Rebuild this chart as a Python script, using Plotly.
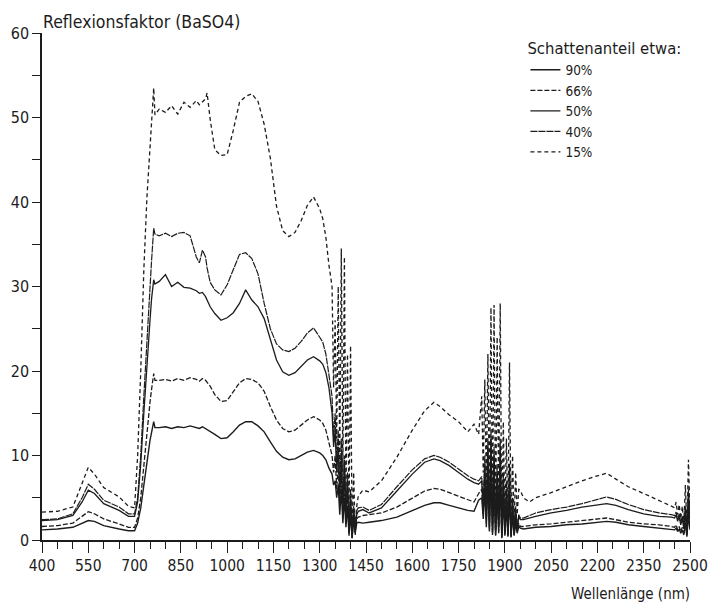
import plotly.graph_objects as go

# ---------------- data ----------------
wavelength = [
    # visible / NIR plateau
    400, 450, 500, 530, 550, 570, 600, 650, 680, 700,
    710, 720, 730, 740, 750, 755, 762, 766,
    780, 800, 820, 840, 860, 880, 900, 910, 920, 930,
    935, 945, 960, 980, 1000, 1020, 1040, 1060, 1080, 1100,
    1120, 1140, 1160, 1180, 1200, 1220, 1240, 1260, 1280, 1300,
    1310, 1320, 1330,
    # water band ~1400
    1340, 1345, 1350, 1355, 1360, 1365, 1370, 1375, 1380, 1385,
    1390, 1395, 1400, 1405, 1410, 1415, 1420, 1425,
    # SWIR 1
    1440, 1460, 1500, 1550, 1600, 1640, 1670, 1690, 1720, 1750,
    1780, 1800, 1815,
    # water band ~1900
    1825, 1830, 1835, 1840, 1845, 1850, 1855, 1860, 1865, 1870,
    1875, 1880, 1885, 1890, 1895, 1900, 1905, 1910, 1915, 1920,
    1925, 1930, 1935, 1940, 1945, 1950,
    # SWIR 2
    1960, 1980, 2000, 2050, 2100, 2150, 2200, 2230, 2260, 2300,
    2350, 2400, 2440,
    # end
    2450, 2455, 2460, 2465, 2470, 2475, 2480, 2485, 2490, 2495, 2500,
]

shadow_15 = [
    3.3, 3.4, 3.9, 6.8, 8.6, 7.8, 6.2, 5.1, 4.0, 3.8,
    10, 20, 32, 40.5, 46, 49, 53.5, 50.3,
    51.0, 50.6, 51.4, 50.4, 51.8, 51.2, 52.0, 51.5, 51.9, 52.2,
    52.9, 49.8, 46.2, 45.5, 45.6, 48.5, 51.8, 52.5, 52.8, 51.9,
    49.2, 45.2, 39.5, 36.6, 35.9, 36.4, 37.8, 39.6, 40.6, 39.2,
    38.0, 35.8, 32.5,
    30, 18, 26, 12, 30, 9, 34.5, 8, 33.5, 5, 22, 3, 23, 1, 8, 0.5, 4, 5.2,
    5.9, 5.7, 7.0, 9.8, 13.0, 15.3, 16.3, 15.8, 14.8, 14.0, 12.8, 13.7, 12.5,
    17, 8, 19, 6, 22, 4, 27.5, 3, 27.8, 2, 24, 5, 28, 1, 14, 3, 12, 2, 21, 1.5,
    10, 2, 8, 3, 6, 5.9,
    5.0, 4.5, 5.0, 5.6, 6.3, 7.0, 7.6, 7.9, 7.2, 6.3, 5.5, 4.7, 4.0,
    3.8, 4.5, 3.0, 4.2, 2.5, 4.0, 2.0, 6.5, 1.5, 9.5, 3.0,
]

shadow_40 = [
    2.4, 2.5, 3.1, 5.0, 6.6, 6.0, 4.7, 3.9, 3.1, 3.1,
    5.0, 10, 17, 24, 30, 33, 36.9, 36.2,
    36.0, 36.3, 35.9, 36.3, 36.4, 36.0, 33.5, 32.8, 34.3, 33.5,
    32.2, 30.5, 29.6, 29.0, 30.2, 32.0, 33.8, 34.0, 33.3, 31.5,
    28.0, 25.0, 23.2, 22.5, 22.3, 22.7, 23.5, 24.5, 25.1, 24.0,
    23.4, 22.0, 19.5,
    17, 12, 15, 9, 13, 6, 12, 4, 10, 3, 8, 1.5, 6, 0.5, 4, 1.5, 3.5, 3.8,
    3.9, 3.5, 4.2, 6.3, 8.3, 9.6, 10.0, 9.8, 9.2, 8.4, 7.6, 7.2, 7.0,
    7.5, 4, 10, 3, 12, 2, 13, 1.5, 11, 1, 9, 2, 12, 0.5, 8, 1, 7, 0.8, 9, 0.6,
    5, 1, 4, 1.5, 3, 2.6,
    2.6, 2.9, 3.2, 3.6, 3.9, 4.3, 4.8, 5.1, 4.8, 4.2, 3.6, 3.2, 3.0,
    2.9, 3.3, 2.4, 3.1, 2.0, 2.8, 1.5, 4.0, 1.0, 6.0, 2.5,
]

shadow_50 = [
    2.3, 2.4, 2.9, 4.5, 5.9, 5.5, 4.3, 3.5, 2.8, 2.8,
    4.5, 9, 15, 21, 26, 28.5, 30.8, 30.3,
    30.6, 31.4, 30.0, 30.5, 29.9, 29.8, 29.5, 29.2, 29.3, 28.8,
    28.4, 27.6, 26.8, 26.0, 26.3, 26.9, 28.0, 29.6, 28.4, 27.6,
    26.2, 23.6, 21.3, 19.9, 19.5, 19.8, 20.6, 21.3, 21.7, 21.2,
    20.8, 19.8, 18.0,
    15, 11, 13, 8, 11, 5, 10, 3.5, 9, 2.5, 7, 1, 5, 0.3, 3.5, 1.2, 3, 3.4,
    3.6, 3.2, 3.8, 5.8, 7.8, 9.2, 9.6, 9.4, 8.8, 8.0, 7.2, 6.8, 6.6,
    7, 3.5, 9, 2.5, 11, 1.5, 12, 1, 10, 0.8, 8, 1.5, 11, 0.4, 7, 0.8, 6, 0.6, 8, 0.5,
    4.5, 0.8, 3.5, 1.3, 2.8, 2.4,
    2.4, 2.6, 2.8, 3.2, 3.5, 3.9, 4.2, 4.3, 4.1, 3.6, 3.1, 2.8, 2.7,
    2.6, 3.0, 2.2, 2.8, 1.8, 2.6, 1.3, 3.5, 0.8, 5.0, 2.2,
]

shadow_66 = [
    1.6, 1.7, 2.0, 2.8, 3.35, 3.1, 2.5, 1.9, 1.5, 1.5,
    2.6, 5, 9, 13, 16.3, 17.8, 19.7, 18.9,
    18.9, 19.0, 18.8, 19.1, 18.9, 19.2, 19.0, 18.8, 19.1, 18.9,
    18.7, 18.2, 17.2, 16.4, 16.5, 17.5, 18.6, 19.1, 19.0, 18.6,
    17.6, 15.8, 14.2, 13.2, 12.8, 13.0, 13.6, 14.2, 14.6, 14.2,
    13.8, 13.0, 11.5,
    10, 8, 10, 6, 9, 4, 8, 2.5, 7, 2, 5, 0.8, 4, 0.2, 3, 1, 2.5, 2.7,
    2.9, 3.0, 3.2, 3.9, 5.0, 5.8, 6.1, 6.0, 5.6, 5.2, 4.8, 4.5, 5.5,
    6, 3, 8, 2, 9, 1.2, 10, 0.8, 8, 0.6, 7, 1, 9, 0.3, 6, 0.6, 5, 0.5, 6, 0.4,
    3.5, 0.6, 2.5, 1, 2, 1.6,
    1.6, 1.7, 1.8, 1.9, 2.1, 2.3, 2.5, 2.6, 2.4, 2.1, 1.9, 1.8, 1.6,
    1.5, 1.8, 1.2, 1.6, 1.0, 1.5, 0.8, 2.5, 0.5, 3.5, 1.5,
]

shadow_90 = [
    1.2, 1.3, 1.5, 2.0, 2.3, 2.2, 1.7, 1.3, 1.1, 1.1,
    2.0, 3.8, 6.5, 9.5, 11.8, 12.7, 14.0, 13.3,
    13.3, 13.4, 13.2, 13.4, 13.3, 13.5, 13.3, 13.2, 13.4, 13.2,
    13.1, 12.9, 12.5, 12.0, 12.1, 12.8, 13.6, 14.0, 14.0, 13.5,
    12.8, 11.6, 10.5, 9.8, 9.5, 9.6, 10.0, 10.4, 10.6, 10.3,
    10.0, 9.5, 8.5,
    7.8, 6.5, 7, 5, 6.5, 3, 6, 2, 5, 1.5, 4, 0.5, 3, 0.2, 2.5, 0.8, 2, 2.1,
    2.0, 2.1, 2.3, 2.7, 3.5, 4.1, 4.4, 4.4, 4.1, 3.8, 3.5, 3.4, 4.7,
    5, 2.5, 6, 1.5, 7, 1, 8, 0.6, 6.5, 0.5, 5.5, 0.8, 7, 0.2, 5, 0.5, 4, 0.4, 5, 0.3,
    3, 0.5, 2, 0.8, 1.6, 1.4,
    1.3, 1.4, 1.5, 1.6, 1.8, 1.9, 2.1, 2.2, 2.1, 1.8, 1.6, 1.4, 1.3,
    1.2, 1.4, 1.0, 1.3, 0.8, 1.2, 0.6, 2.0, 0.4, 3.0, 1.2,
]

series_names = ["90%", "66%", "50%", "40%", "15%"]
x_tick_vals = list(range(400, 2501, 150))
x_tick_text = [str(v) for v in x_tick_vals]
y_tick_vals = [0, 10, 20, 30, 40, 50, 60]

# ---------------- figure ----------------
FONT = "DejaVu Sans Condensed, Liberation Sans Narrow, Arial Narrow, sans-serif"
INK = "#1c1c1c"

series = [shadow_90, shadow_66, shadow_50, shadow_40, shadow_15]
dashes = ["solid", "5px,2px", "solid", "7px,1px", "4px,3px"]
widths = [1.4, 1.3, 1.3, 1.2, 1.3]

fig = go.Figure()
for name, vals, d, w in zip(series_names, series, dashes, widths):
    fig.add_trace(go.Scatter(
        x=wavelength, y=vals, mode="lines", name=name,
        line=dict(color=INK, width=w, dash=d),
    ))

# the page body has an 8px margin; figure size/margins compensate for it
fig.update_layout(
    width=715, height=596,
    margin=dict(l=34, r=33, t=25, b=64),
    paper_bgcolor="white", plot_bgcolor="white",
    font=dict(family=FONT, size=15, color=INK),
    showlegend=True,
    legend=dict(
        title=dict(text="Schattenanteil etwa:", font=dict(size=16.5, family=FONT)),
        x=0.746, y=1.0, xanchor="left", yanchor="top",
        font=dict(size=13.5, family=FONT),
        bgcolor="rgba(0,0,0,0)", itemwidth=30, tracegroupgap=0,
    ),
    xaxis=dict(
        range=[400, 2500], tickvals=x_tick_vals, ticktext=x_tick_text,
        ticks="outside", ticklen=11, tickwidth=1.2, tickcolor=INK,
        minor=dict(tick0=400, dtick=50, ticks="outside", ticklen=7, tickwidth=1.2, tickcolor=INK),
        showline=True, linecolor=INK, linewidth=1.5,
        showgrid=False, zeroline=False, automargin=False,
        tickfont=dict(size=15.5, family=FONT),
    ),
    yaxis=dict(
        range=[0, 60], tickvals=y_tick_vals,
        ticks="outside", ticklen=8, tickwidth=1.2, tickcolor=INK,
        minor=dict(tick0=0, dtick=5, ticks="outside", ticklen=8, tickwidth=1.2, tickcolor=INK),
        showline=True, linecolor=INK, linewidth=1.5,
        showgrid=False, zeroline=False, automargin=False,
        tickfont=dict(size=16, family=FONT),
    ),
    annotations=[
        dict(text="Reflexionsfaktor (BaSO4)", xref="paper", yref="paper",
             x=0, y=1, xanchor="left", yanchor="bottom", yshift=0, xshift=0,
             borderpad=0, showarrow=False, font=dict(size=17.5, family=FONT)),
        dict(text="Wellenlänge (nm)", xref="paper", yref="paper",
             x=1, y=0, xanchor="right", yanchor="top", yshift=-43, xshift=2,
             showarrow=False, font=dict(size=15, family=FONT)),
    ],
)

fig.write_html("out.html")
